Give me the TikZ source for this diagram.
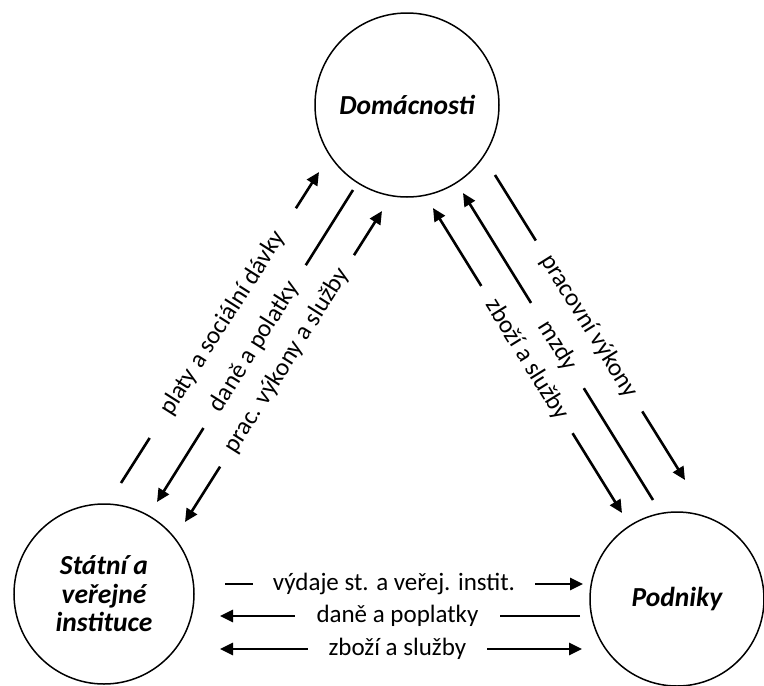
\documentclass[tikz,border=0pt]{standalone}
\usepackage{fontspec}
\setmainfont{Carlito}
\usetikzlibrary{arrows.meta}
\newcommand{\entfont}{\fontsize{27.5}{28.5}\selectfont\bfseries\itshape}
\newcommand{\labfont}{\fontsize{25}{30}\selectfont}
\begin{document}
\begin{tikzpicture}[x=1pt,y=-1pt,
  ent/.style={circle, draw, line width=1.5pt, minimum size=#1, inner sep=0pt, font=\entfont, align=center},
  flow/.style={line width=2.6pt},
  tip/.style={-{Triangle[length=13pt,width=12pt]}},
  both/.style={{Triangle[length=13pt,width=12pt]}-{Triangle[length=13pt,width=12pt]}},
  lab/.style={fill=white, inner sep=0pt, minimum height=14pt, minimum width=#1, font=\labfont, sloped}]
\useasboundingbox (0,0) rectangle (764,686);

% entities
\node[ent=184pt] (dom) at (407,105) {Domácnosti};
\node[ent=180pt] (stat) at (104,594) {Státní a\\veřejné\\instituce};
\node[ent=174pt] (pod) at (677,599) {Podniky};

% left side
\coordinate (a1) at (121,483); \coordinate (a2) at (319,172);
\coordinate (b1) at (353,190); \coordinate (b2) at (157,502);
\coordinate (c1) at (185,522); \coordinate (c2) at (382,211);
\draw[flow,tip] (a1) -- node[lab=272pt, pos=0.514] {platy a sociální dávky} (a2);
\draw[flow,tip] (b1) -- node[lab=192pt, pos=0.502] {daně a polatky} (b2);
\draw[flow,both] (c1) -- node[lab=250pt, pos=0.518] {prac. výkony a služby} (c2);

% right side
\coordinate (d1) at (495,175); \coordinate (d2) at (685,480);
\coordinate (e1) at (653,500); \coordinate (e2) at (463,193);
\coordinate (f1) at (433,208); \coordinate (f2) at (622,513);
\draw[flow,tip] (d1) -- node[lab=201pt, pos=0.495] {pracovní výkony} (d2);
\draw[flow,tip] (e1) -- node[lab=100pt, pos=0.503] {mzdy} (e2);
\draw[flow,both] (f1) -- node[lab=173pt, pos=0.497] {zboží a služby} (f2);

% bottom
\coordinate (g1) at (225,584); \coordinate (g2) at (583,584);
\coordinate (h1) at (580,616); \coordinate (h2) at (220,616);
\coordinate (i1) at (220,649); \coordinate (i2) at (582,649);
\draw[flow,tip] (g1) -- node[lab=282pt, pos=0.472] {výdaje st. a veřej. instit.} (g2);
\draw[flow,tip] (h1) -- node[lab=205pt, pos=0.507] {daně a poplatky} (h2);
\draw[flow,both] (i1) -- node[lab=179pt, pos=0.49] {zboží a služby} (i2);
\end{tikzpicture}
\end{document}
